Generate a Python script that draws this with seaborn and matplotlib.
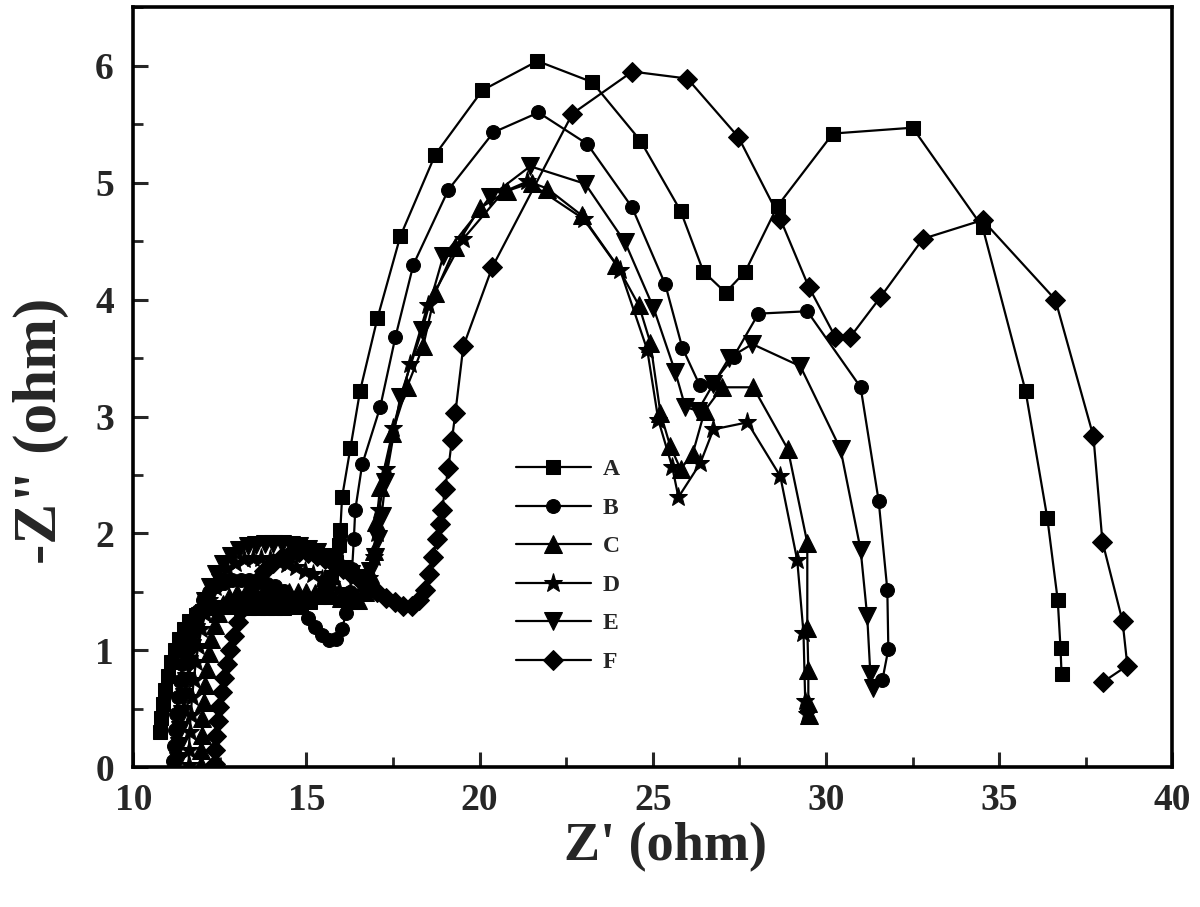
import numpy as np
import pandas as pd
import matplotlib
matplotlib.use('Agg')
import matplotlib.pyplot as plt
import seaborn as sns
from matplotlib.ticker import MultipleLocator

# Nyquist data (Z' , -Z'')
a_x = [10.78, 10.8, 10.85, 10.92, 11.0, 11.1, 11.2, 11.32, 11.46, 11.62, 11.8, 12.0, 12.2, 12.4,
       12.6, 12.85, 13.1, 13.35, 13.6, 13.85, 14.1, 14.35, 14.6, 14.85, 15.1, 15.35, 15.55, 15.72,
       15.85, 15.93, 15.98, 16.03, 16.27, 16.55, 17.05, 17.71, 18.72, 20.08, 21.67, 23.25, 24.64, 25.80,
       26.46, 27.10, 27.67, 28.6, 30.2, 32.5, 34.52, 35.76, 36.39, 36.69, 36.77, 36.80]
a_y = [0.30, 0.42, 0.54, 0.66, 0.78, 0.9, 1.0, 1.1, 1.18, 1.25, 1.3, 1.34, 1.36, 1.37,
       1.37, 1.37, 1.36, 1.36, 1.36, 1.36, 1.36, 1.36, 1.37, 1.38, 1.41, 1.46, 1.53, 1.63,
       1.76, 1.9, 2.03, 2.31, 2.73, 3.22, 3.84, 4.54, 5.24, 5.79, 6.04, 5.86, 5.36, 4.76,
       4.24, 4.06, 4.24, 4.80, 5.42, 5.47, 4.62, 3.22, 2.13, 1.43, 1.02, 0.80]

b_x = [11.15, 11.17, 11.2, 11.24, 11.29, 11.35, 11.42, 11.5, 11.6, 11.72, 11.86, 12.02, 12.2, 12.4,
       12.62, 12.85, 13.1, 13.35, 13.6, 13.85, 14.1, 14.35, 14.6, 14.85, 15.05, 15.25, 15.45, 15.65,
       15.85, 16.02, 16.15, 16.25, 16.32, 16.37, 16.41, 16.61, 17.13, 17.57, 18.09, 19.1, 20.4, 21.7,
       23.11, 24.4, 25.36, 25.85, 26.35, 26.75, 27.33, 28.05, 29.46, 31.0, 31.52, 31.77, 31.8, 31.63]
b_y = [0.05, 0.18, 0.32, 0.46, 0.6, 0.74, 0.88, 1.0, 1.12, 1.24, 1.34, 1.43, 1.5, 1.55,
       1.58, 1.6, 1.6, 1.6, 1.59, 1.57, 1.55, 1.51, 1.45, 1.37, 1.28, 1.2, 1.13, 1.09,
       1.1, 1.18, 1.32, 1.5, 1.7, 1.95, 2.2, 2.59, 3.08, 3.68, 4.30, 4.94, 5.43, 5.60,
       5.33, 4.79, 4.13, 3.59, 3.27, 3.29, 3.51, 3.88, 3.90, 3.25, 2.28, 1.52, 1.01, 0.75]

c_x = [11.95, 11.96, 11.98, 12.0, 12.03, 12.07, 12.12, 12.18, 12.26, 12.35, 12.46, 12.6, 12.78, 13.0,
       13.25, 13.5, 13.75, 14.0, 14.25, 14.5, 14.75, 15.0, 15.25, 15.5, 15.75, 16.0, 16.25, 16.5,
       16.7, 16.85, 16.95, 17.02, 17.13, 17.48, 17.9, 18.37, 18.72, 19.3, 20.0, 20.8, 21.5, 21.95,
       22.95, 23.95, 24.6, 24.93, 25.22, 25.5, 25.8, 26.15, 26.5, 27.0, 27.9, 28.9, 29.46, 29.46,
       29.49, 29.49, 29.5]
c_y = [0.02, 0.15, 0.28, 0.42, 0.56, 0.7, 0.84, 0.98, 1.1, 1.22, 1.32, 1.4, 1.46, 1.49,
       1.5, 1.5, 1.5, 1.5, 1.5, 1.5, 1.5, 1.5, 1.49, 1.48, 1.47, 1.45, 1.43, 1.43,
       1.5, 1.65, 1.85, 2.1, 2.40, 2.86, 3.25, 3.6, 4.06, 4.45, 4.78, 4.93, 5.0, 4.95,
       4.72, 4.3, 3.95, 3.63, 3.03, 2.75, 2.55, 2.68, 3.05, 3.25, 3.25, 2.72, 1.92, 1.19,
       0.83, 0.55, 0.45]

d_x = [11.6, 11.61, 11.63, 11.66, 11.7, 11.75, 11.81, 11.88, 11.97, 12.08, 12.2, 12.35, 12.52, 12.72,
       12.95, 13.2, 13.45, 13.7, 13.95, 14.2, 14.45, 14.7, 14.95, 15.2, 15.45, 15.7, 15.95, 16.2,
       16.45, 16.65, 16.82, 16.95, 17.03, 17.1, 17.3, 17.5, 18.0, 18.5, 19.53, 20.68, 21.38, 23.0,
       24.06, 24.84, 25.16, 25.56, 25.74, 26.37, 26.75, 27.73, 28.68, 29.17, 29.35, 29.4, 29.45]
d_y = [0.02, 0.15, 0.3, 0.45, 0.6, 0.75, 0.9, 1.04, 1.18, 1.31, 1.43, 1.54, 1.63, 1.7,
       1.75, 1.78, 1.79, 1.79, 1.78, 1.76, 1.74, 1.71, 1.68, 1.65, 1.61, 1.57, 1.52, 1.47,
       1.45, 1.5, 1.62, 1.8, 2.0, 2.2, 2.55, 2.9, 3.45, 3.95, 4.52, 4.92, 5.01, 4.69,
       4.25, 3.57, 2.97, 2.57, 2.31, 2.60, 2.89, 2.95, 2.49, 1.77, 1.15, 0.57, 0.46]

e_x = [11.3, 11.32, 11.35, 11.4, 11.46, 11.53, 11.61, 11.7, 11.8, 11.92, 12.06, 12.22, 12.4, 12.6,
       12.82, 13.05, 13.3, 13.55, 13.8, 14.05, 14.3, 14.55, 14.8, 15.05, 15.3, 15.55, 15.8, 16.05,
       16.3, 16.5, 16.68, 16.84, 16.97, 17.07, 17.17, 17.28, 17.71, 18.34, 18.95, 20.31, 21.46, 23.05,
       24.2, 25.02, 25.65, 25.94, 26.3, 26.75, 27.2, 27.87, 29.26, 30.42, 31.0, 31.19, 31.28, 31.35]
e_y = [0.05, 0.18, 0.32, 0.46, 0.6, 0.74, 0.88, 1.02, 1.16, 1.29, 1.42, 1.54, 1.65, 1.74,
       1.81, 1.86, 1.89, 1.9, 1.91, 1.91, 1.91, 1.9, 1.89, 1.87, 1.84, 1.8, 1.76, 1.7,
       1.65, 1.62, 1.62, 1.68, 1.8, 1.95, 2.15, 2.44, 3.17, 3.74, 4.37, 4.88, 5.14, 4.99,
       4.49, 3.93, 3.38, 3.08, 3.05, 3.28, 3.5, 3.62, 3.43, 2.72, 1.86, 1.29, 0.80, 0.68]

f_x = [12.35, 12.37, 12.4, 12.44, 12.49, 12.55, 12.62, 12.7, 12.79, 12.9, 13.03, 13.18, 13.36, 13.56,
       13.78, 14.03, 14.3, 14.55, 14.8, 15.05, 15.3, 15.55, 15.8, 16.05, 16.3, 16.55, 16.8, 17.05,
       17.3, 17.55, 17.8, 18.05, 18.25, 18.42, 18.55, 18.66, 18.76, 18.85, 18.92, 19.0, 19.1, 19.2,
       19.3, 19.53, 20.37, 22.68, 24.41, 26.0, 27.47, 28.68, 29.5, 30.27, 30.7, 31.57, 32.8, 34.52,
       36.62, 37.72, 37.98, 38.56, 38.70, 38.0]
f_y = [0.03, 0.15, 0.27, 0.4, 0.52, 0.64, 0.76, 0.88, 1.0, 1.12, 1.24, 1.36, 1.48, 1.59,
       1.68, 1.75, 1.8, 1.83, 1.84, 1.83, 1.81, 1.78, 1.74, 1.7, 1.65, 1.6, 1.55, 1.5,
       1.45, 1.41, 1.38, 1.38, 1.43, 1.52, 1.65, 1.8, 1.95, 2.08, 2.2, 2.38, 2.56, 2.8,
       3.03, 3.60, 4.28, 5.59, 5.95, 5.89, 5.39, 4.69, 4.11, 3.68, 3.68, 4.02, 4.52, 4.68,
       4.0, 2.83, 1.93, 1.25, 0.87, 0.73]

labels = ['A', 'B', 'C', 'D', 'E', 'F']
series_x = [a_x, b_x, c_x, d_x, e_x, f_x]
series_y = [a_y, b_y, c_y, d_y, e_y, f_y]
marker_list = ['s', 'o', '^', '*', 'v', 'D']
marker_size = [9.5, 10, 13, 14, 13, 10]

sns.set_style('ticks')
plt.rcParams['font.family'] = ['Liberation Serif', 'DejaVu Serif']
plt.rcParams['font.weight'] = 'bold'
plt.rcParams['axes.labelweight'] = 'bold'

fig = plt.figure(figsize=(12, 9.07), dpi=100)
ax = fig.add_axes([0.111, 0.154, 0.866, 0.838])

for lab, xs, ys, mk, ms in zip(labels, series_x, series_y, marker_list, marker_size):
    df = pd.DataFrame({'zre': xs, 'zim': ys})
    sns.lineplot(data=df, x='zre', y='zim', sort=False, estimator=None, color='black',
                 linewidth=1.6, marker=mk, markersize=ms, markeredgecolor='black',
                 markerfacecolor='black', label=lab, ax=ax)

ax.set_xlim(10, 40)
ax.set_ylim(0, 6.5)
ax.xaxis.set_major_locator(MultipleLocator(5))
ax.xaxis.set_minor_locator(MultipleLocator(2.5))
ax.yaxis.set_major_locator(MultipleLocator(1))
ax.yaxis.set_minor_locator(MultipleLocator(0.5))
ax.tick_params(which='major', direction='in', length=11, width=2.2, labelsize=27)
ax.tick_params(axis='x', pad=11)
ax.tick_params(axis='y', pad=14)
ax.tick_params(which='minor', direction='in', length=7, width=2.0)
ax.tick_params(top=False, right=False)
for s in ax.spines.values():
    s.set_linewidth(2.6)
    s.set_color('black')

ax.set_xlabel("Z' (ohm)", fontsize=39)
ax.set_ylabel('-Z" (ohm)', fontsize=44)
ax.xaxis.set_label_coords(0.512, -0.072)
ax.yaxis.set_label_coords(-0.062, 0.443)

leg = ax.legend(loc='upper left', bbox_to_anchor=(0.368, 0.406), frameon=False, fontsize=17,
                handlelength=3.2, handletextpad=0.5, labelspacing=0.72, borderpad=0, borderaxespad=0)

fig.savefig('out.png', dpi=100)
